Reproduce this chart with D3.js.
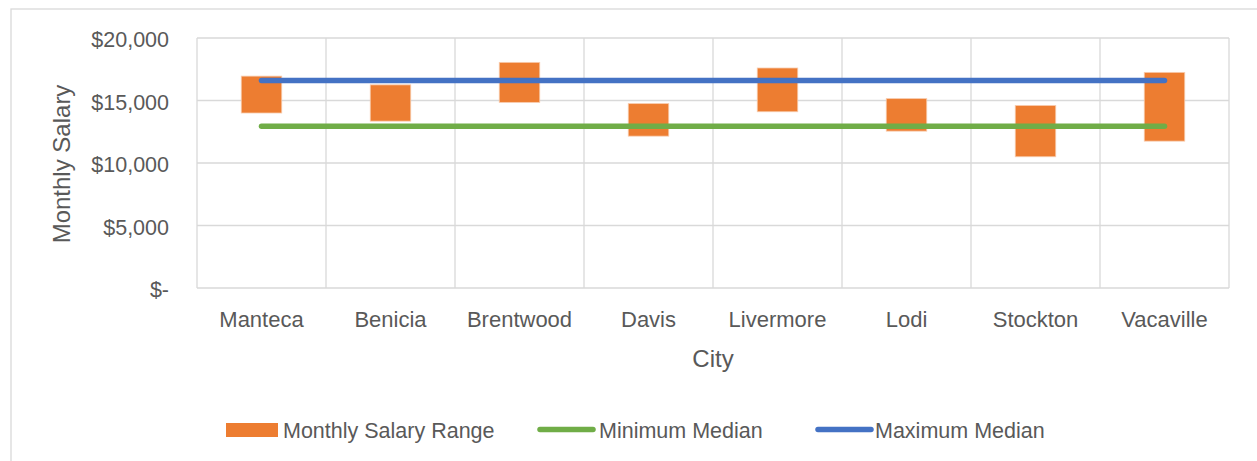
<!DOCTYPE html>
<html>
<head>
<meta charset="utf-8">
<script src="https://cdn.jsdelivr.net/npm/d3@7/dist/d3.min.js"></script>
<style>
  html, body { margin: 0; padding: 0; background: #fff; }
  svg { display: block; font-family: "Liberation Sans", Arial, sans-serif; }
</style>
</head>
<body>
<svg id="chart" width="1257" height="461"></svg>
<script>
const cities = ["Manteca", "Benicia", "Brentwood", "Davis", "Livermore", "Lodi", "Stockton", "Vacaville"];
const rangeLow  = [14000, 13350, 14850, 12150, 14100, 12550, 10500, 11750];
const rangeHigh = [16950, 16250, 18050, 14750, 17600, 15150, 14600, 17250];
const minMedian = [12950, 12950, 12950, 12950, 12950, 12950, 12950, 12950];
const maxMedian = [16600, 16600, 16600, 16600, 16600, 16600, 16600, 16600];
const yTicks = [0, 5000, 10000, 15000, 20000];
const seriesNames = ["Monthly Salary Range", "Minimum Median", "Maximum Median"];

const textColor = "#595959";
const gridColor = "#d9d9d9";
const orange = "#ED7D31", green = "#70AD47", blue = "#4472C4";
const FONT = "'Liberation Sans', Arial, sans-serif";

const svg = d3.select("#chart");

// chart area border
svg.append("rect").attr("x", 11).attr("y", 9).attr("width", 1300).attr("height", 500)
  .attr("fill", "#fff").attr("stroke", gridColor).attr("stroke-width", 1.3);

const x = d3.scaleBand().domain(cities).range([197, 1229]).paddingInner(0).paddingOuter(0);
const y = d3.scaleLinear().domain([0, 20000]).range([288, 38]);

// horizontal gridlines
svg.append("g").selectAll("line").data(yTicks).join("line")
  .attr("x1", 197).attr("x2", 1229)
  .attr("y1", d => y(d)).attr("y2", d => y(d))
  .attr("stroke", gridColor).attr("stroke-width", 1.3);

// vertical gridlines at category boundaries
const bounds = cities.map(c => x(c)).concat([x(cities[cities.length - 1]) + x.bandwidth()]);
svg.append("g").selectAll("line").data(bounds).join("line")
  .attr("x1", d => d).attr("x2", d => d)
  .attr("y1", y(0)).attr("y2", y(20000))
  .attr("stroke", gridColor).attr("stroke-width", 1.3);

// y axis labels
const yAxis = d3.axisLeft(y).tickValues(yTicks).tickSize(0).tickPadding(0)
  .tickFormat(v => v === 0 ? "$-" : "$" + d3.format(",")(v));
const gy = svg.append("g").attr("transform", "translate(169,2)").call(yAxis);
gy.select(".domain").remove();
gy.selectAll("text").attr("fill", textColor).attr("font-size", 21.5).attr("font-family", FONT);

// x axis labels
const xAxis = d3.axisBottom(x).tickSize(0).tickPadding(0);
const gx = svg.append("g").attr("transform", "translate(0,311)").call(xAxis);
gx.select(".domain").remove();
gx.selectAll("text").attr("fill", textColor).attr("font-size", 22).attr("font-family", FONT);

// axis titles
svg.append("text").attr("x", 713).attr("y", 367).attr("text-anchor", "middle")
  .attr("fill", textColor).attr("font-size", 24).attr("font-family", FONT).text("City");
svg.append("text").attr("transform", "translate(70,164) rotate(-90)").attr("text-anchor", "middle")
  .attr("fill", textColor).attr("font-size", 24).attr("font-family", FONT).text("Monthly Salary");

// range bars
const barW = 40.5;
svg.append("g").selectAll("rect").data(cities).join("rect")
  .attr("x", c => x(c) + x.bandwidth() / 2 - barW / 2)
  .attr("width", barW)
  .attr("y", (c, i) => y(rangeHigh[i]))
  .attr("height", (c, i) => y(rangeLow[i]) - y(rangeHigh[i]))
  .attr("fill", orange).attr("stroke", "#F8CBAD").attr("stroke-width", 0.8);

// median lines
const line = d3.line().x(d => x(d.c) + x.bandwidth() / 2).y(d => y(d.v));
function drawLine(vals, color) {
  svg.append("path").datum(cities.map((c, i) => ({ c, v: vals[i] })))
    .attr("d", line).attr("fill", "none").attr("stroke", color)
    .attr("stroke-width", 5.5).attr("stroke-linecap", "round").attr("stroke-linejoin", "round");
}
drawLine(minMedian, green);
drawLine(maxMedian, blue);

// legend
const lg = svg.append("g").attr("font-family", FONT);
lg.append("rect").attr("x", 226).attr("y", 423).attr("width", 52).attr("height", 14).attr("fill", orange);
lg.append("text").attr("x", 283).attr("y", 437.5).attr("fill", textColor).attr("font-size", 21.5).text(seriesNames[0]);
lg.append("line").attr("x1", 540).attr("x2", 593).attr("y1", 429.5).attr("y2", 429.5)
  .attr("stroke", green).attr("stroke-width", 5.5).attr("stroke-linecap", "round");
lg.append("text").attr("x", 599).attr("y", 437.5).attr("fill", textColor).attr("font-size", 21.5).text(seriesNames[1]);
lg.append("line").attr("x1", 818).attr("x2", 871).attr("y1", 429.5).attr("y2", 429.5)
  .attr("stroke", blue).attr("stroke-width", 5.5).attr("stroke-linecap", "round");
lg.append("text").attr("x", 875).attr("y", 437.5).attr("fill", textColor).attr("font-size", 21.5).text(seriesNames[2]);
</script>
</body>
</html>
